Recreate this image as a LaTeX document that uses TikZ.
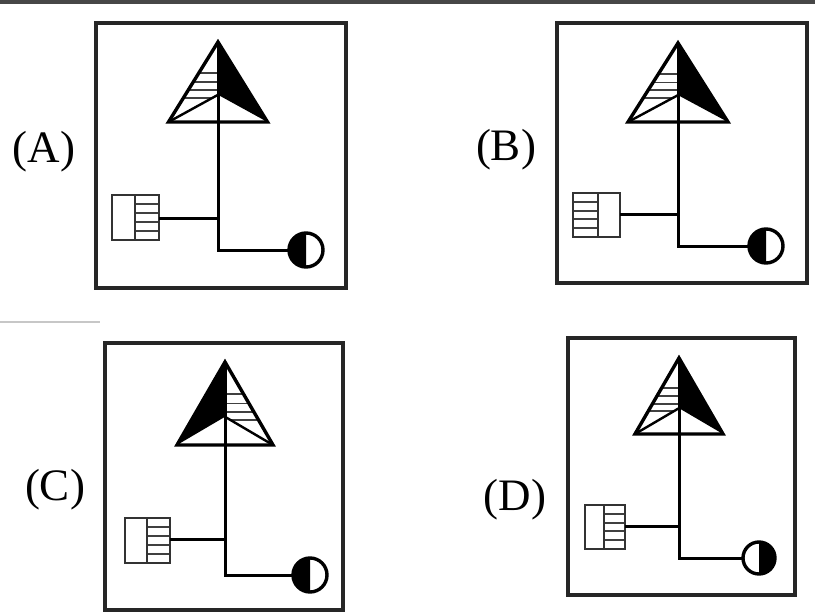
\documentclass[tikz,border=0pt]{standalone}
\usepackage{fontspec}
\setmainfont{Liberation Serif}
\tikzset{
  frame/.style={line width=3.6pt, draw=black!85},
  wire/.style={line width=3pt},
  outl/.style={line width=3.4pt, line join=miter},
  hatch/.style={line width=1.9pt, draw=black!75},
  sqbox/.style={line width=2pt, draw=black!80},
  lbl/.style={font=\fontsize{45}{50}\selectfont, inner sep=0pt}
}
% triangle: name, apex x, apex y, half width, height, mirror
\newcommand{\SigTri}[6]{%
  \coordinate (#1) at (#2,#3);
  \begin{scope}[shift={(#2,#3)}, xscale=#6]
    \begin{scope}
      \clip (0,0) -- (-#4,#5) -- (0,0.66*#5) -- cycle;
      \foreach \f in {0.39,0.5,0.6,0.7} \draw[hatch] (-#4,\f*#5) -- (0,\f*#5);
    \end{scope}
    \fill (0,0) -- (#4,#5) -- (0,0.66*#5) -- cycle;
    \draw[line width=2.4pt] (-#4,#5) -- (0,0.66*#5);
    \draw[outl] (0,0) -- (#4,#5) -- (-#4,#5) -- cycle;
  \end{scope}}
% square: x1,y1,x2,y2,divider,hatch x1,hatch x2
\newcommand{\SigSq}[7]{%
  \foreach \k in {1,2,3,4} \draw[hatch] (#6,{#2+\k*(#4-#2)/5}) -- (#7,{#2+\k*(#4-#2)/5});
  \draw[sqbox] (#1,#2) rectangle (#3,#4);
  \draw[sqbox] (#5,#2) -- (#5,#4);}
% circle: name, cx, cy, r, side (-1 left black, 1 right black)
\newcommand{\SigCirc}[5]{%
  \coordinate (#1) at (#2-#4,#3);
  \begin{scope}
    \clip (#2,#3-#4-3) rectangle (#2+#5*#4+#5*3,#3+#4+3);
    \fill (#2,#3) circle[radius=#4];
  \end{scope}
  \draw[outl] (#2,#3) circle[radius=#4];}
\begin{document}
\begin{tikzpicture}[x=1pt,y=-1pt]
\useasboundingbox (0,0) rectangle (815,613);
\fill[white] (0,0) rectangle (815,613);
\fill[black!72] (0,0) rectangle (815,4);
\draw[black!22, line width=1.5pt] (0,322) -- (100,322);

% ---------- Panel A ----------
\draw[frame] (96,23) rectangle (346,288);
\node[lbl] (labA) at (44,152) {(A)};
\SigTri{Atop}{218}{42}{49.5}{80}{1}
\SigSq{112}{195}{159}{240}{135}{135}{159}
\coordinate (Asq) at (159,218);
\coordinate (Aj) at (218,218);
\coordinate (Ac) at (218,250);
\SigCirc{Ao}{306}{250}{17}{-1}
\draw[wire] (Atop) -- (Ac) -- (Ao);
\draw[wire] (Asq) -- (Aj);

% ---------- Panel B ----------
\draw[frame] (557,23) rectangle (807,283);
\node[lbl] (labB) at (506,150) {(B)};
\SigTri{Btop}{678}{43}{50}{79}{1}
\SigSq{573}{193}{620}{237}{598}{573}{598}
\coordinate (Bsq) at (620,214);
\coordinate (Bj) at (678,214);
\coordinate (Bc) at (678,246);
\SigCirc{Bo}{766}{246}{17}{-1}
\draw[wire] (Btop) -- (Bc) -- (Bo);
\draw[wire] (Bsq) -- (Bj);

% ---------- Panel C ----------
\draw[frame] (105,343) rectangle (343,610);
\node[lbl] (labC) at (55,490) {(C)};
\SigTri{Ctop}{225}{362}{48}{83}{-1}
\SigSq{125}{518}{170}{563}{147}{147}{170}
\coordinate (Csq) at (170,539);
\coordinate (Cj) at (225,539);
\coordinate (Cc) at (225,575);
\SigCirc{Co}{310}{575}{17}{-1}
\draw[wire] (Ctop) -- (Cc) -- (Co);
\draw[wire] (Csq) -- (Cj);

% ---------- Panel D ----------
\draw[frame] (568,338) rectangle (795,595);
\node[lbl] (labD) at (515,500) {(D)};
\SigTri{Dtop}{679}{358}{44}{76}{1}
\SigSq{585}{505}{625}{549}{604}{604}{625}
\coordinate (Dsq) at (625,526);
\coordinate (Dj) at (679,526);
\coordinate (Dc) at (679,558);
\SigCirc{Do}{759}{558}{16}{1}
\draw[wire] (Dtop) -- (Dc) -- (Do);
\draw[wire] (Dsq) -- (Dj);
\end{tikzpicture}
\end{document}
